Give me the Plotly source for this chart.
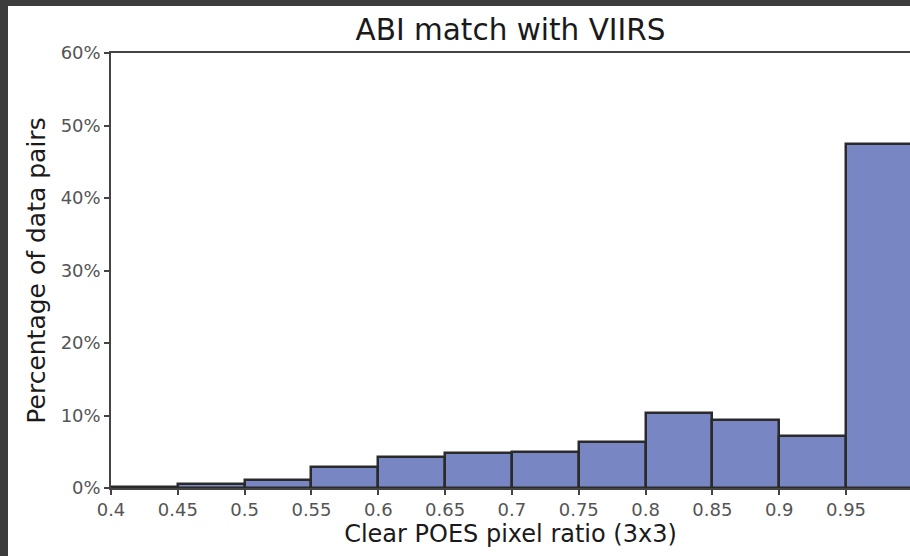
import plotly.graph_objects as go

bin_left = [0.40, 0.45, 0.50, 0.55, 0.60, 0.65, 0.70, 0.75, 0.80, 0.85, 0.90, 0.95]
percent = [0.2, 0.55, 1.1, 2.85, 4.3, 4.8, 5.0, 6.3, 10.3, 9.4, 7.2, 47.5]
bin_width = 0.05
x_ticks = [0.4, 0.45, 0.5, 0.55, 0.6, 0.65, 0.7, 0.75, 0.8, 0.85, 0.9, 0.95, 1.0]
x_tick_text = ["0.4", "0.45", "0.5", "0.55", "0.6", "0.65", "0.7", "0.75", "0.8", "0.85", "0.9", "0.95", "1"]
y_ticks = [0, 10, 20, 30, 40, 50, 60]
y_tick_text = ["0%", "10%", "20%", "30%", "40%", "50%", "60%"]

W, H = 910, 556
ML, MR, MT, MB = 111, 0, 53, 68
pw = W - ML - MR
ph = H - MT - MB

fig = go.Figure()
fig.add_trace(go.Bar(
    x=[l + bin_width / 2 for l in bin_left],
    y=percent,
    width=[bin_width] * len(bin_left),
    marker=dict(color="#7887C3", line=dict(color="#2a2a2a", width=2.5)),
    hoverinfo="skip",
))

font_family = "DejaVu Sans, Liberation Sans, sans-serif"
fig.update_layout(
    width=W, height=H,
    margin=dict(l=ML, r=MR, t=MT, b=MB, autoexpand=False),
    paper_bgcolor="#3c3c3c",
    plot_bgcolor="white",
    showlegend=False,
    bargap=0,
    font=dict(family=font_family),
    title=dict(text="ABI match with VIIRS", x=(ML + pw / 2) / W, xanchor="center",
               y=1 - 30 / H, yanchor="middle",
               font=dict(size=29.5, color="#1a1a1a", family=font_family)),
    xaxis=dict(
        range=[0.4, 0.4 + (W - ML) / 66.82 * 0.05],
        tickvals=x_ticks, ticktext=x_tick_text,
        showgrid=False, zeroline=False,
        showline=True, linecolor="#444444", linewidth=1.5, mirror=True,
        ticks="outside", ticklen=5, tickwidth=1.5, tickcolor="#444444",
        tickfont=dict(size=18, color="#555555"),
        title=dict(text="Clear POES pixel ratio (3x3)", standoff=3,
                   font=dict(size=24, color="#1a1a1a")),
    ),
    yaxis=dict(
        range=[0, 60],
        tickvals=y_ticks, ticktext=y_tick_text,
        showgrid=False, zeroline=False,
        showline=True, linecolor="#444444", linewidth=1.5, mirror=True,
        ticks="outside", ticklen=5, tickwidth=1.5, tickcolor="#444444",
        tickfont=dict(size=18, color="#555555"),
        title=dict(text="Percentage of data pairs", standoff=8,
                   font=dict(size=25, color="#1a1a1a")),
    ),
    shapes=[dict(
        type="rect", xref="paper", yref="paper", layer="below",
        x0=(8 - ML) / pw, x1=1.05, y0=-(MB + 5) / ph, y1=1 + (MT - 6) / ph,
        fillcolor="white", line=dict(width=0),
    )],
)

fig.write_html("out.html")
